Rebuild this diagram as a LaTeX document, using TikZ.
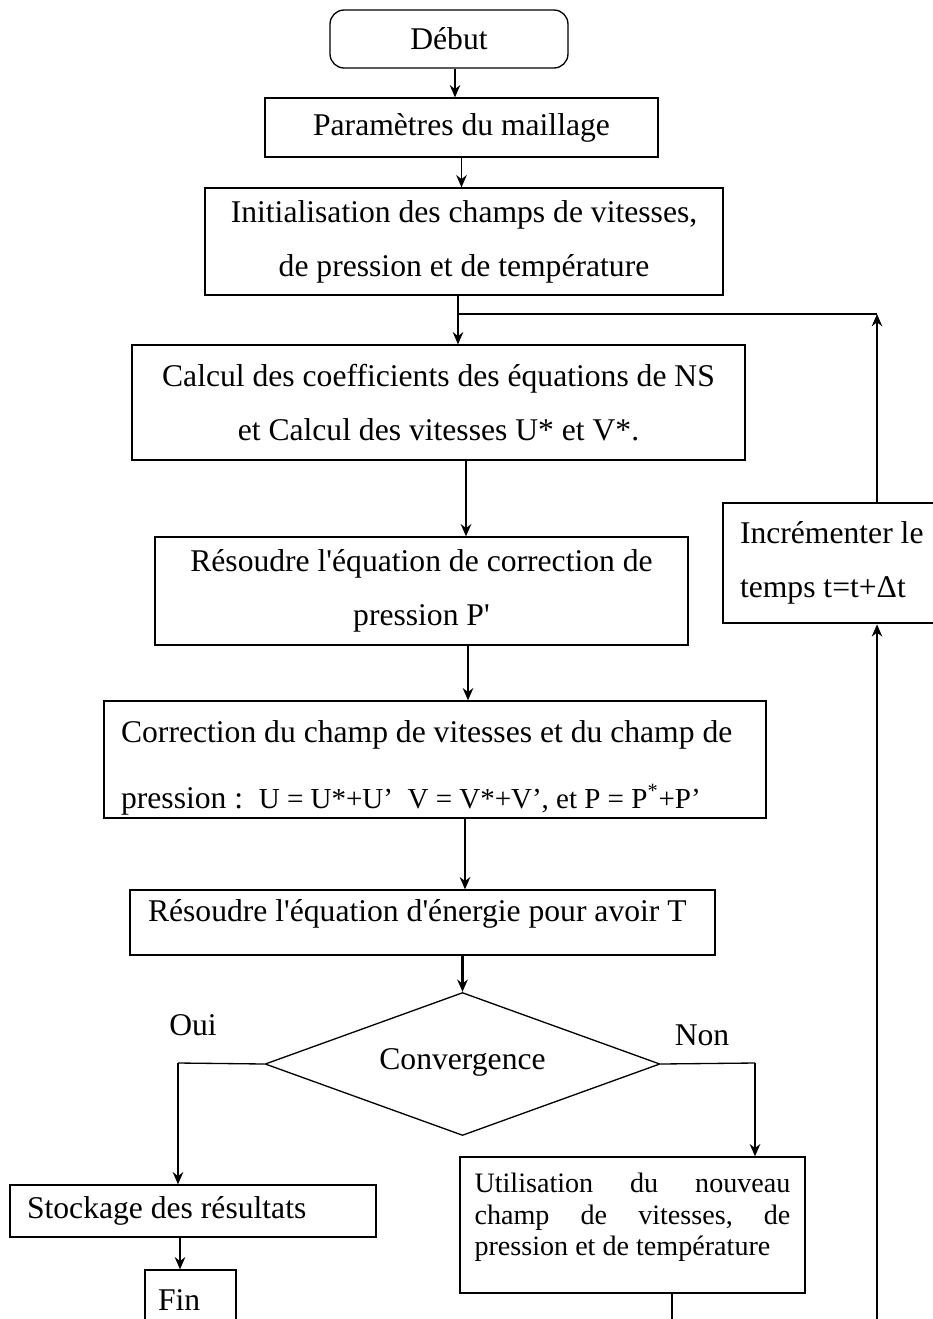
\documentclass[tikz,border=0pt]{standalone}
\usepackage{fontspec}
\setmainfont{Liberation Serif}[Ligatures=TeXOff]
\usetikzlibrary{shapes.geometric,arrows.meta}
\begin{document}
\begin{tikzpicture}[x=0.02cm,y=-0.02cm,
  box/.style={draw, line width=0.75pt, rectangle, inner sep=0pt, align=center,
    font=\fontsize{18}{30.8}\selectfont},
  lbox/.style={box, align=left},
  arr/.style={-{Stealth[length=7pt,width=6pt]}, line width=0.75pt},
  tarr/.style={-{Stealth[length=7pt,width=6pt]}, line width=1.4pt},
  conn/.style={line width=0.75pt},
  lab/.style={inner sep=0pt, font=\fontsize{18}{21}\selectfont}]
\useasboundingbox (0,0) rectangle (933,1319);
\clip (0,0) rectangle (933,1319);
\fill[white] (0,0) rectangle (933,1319);

\node[box, rounded corners=8pt, minimum width=4.76cm, minimum height=1.16cm] (debut) at (449,39) {Début};
\node[box, minimum width=7.86cm, minimum height=1.18cm] (param) at (461.5,127.5) {Paramètres du maillage};
\node[box, minimum width=10.36cm, minimum height=2.14cm] (init) at (464,241.5)
  {Initialisation des champs de vitesses,\\ de pression et de température};
\node[box, minimum width=12.26cm, minimum height=2.30cm] (calc) at (438.5,402.5)
  {Calcul des coefficients des équations de NS\\ et Calcul des vitesses U* et V*.};
\node[box, minimum width=10.66cm, minimum height=2.16cm] (resp) at (421.5,591)
  {Résoudre l'équation de correction de\\ pression P'};
\node[lbox, font=\fontsize{18}{38}\selectfont, minimum width=13.24cm, minimum height=2.34cm] (corr) at (435,759.5)
  {\makebox[12.56cm][l]{\rule{0pt}{22pt}Correction du champ de vitesses et du champ de}\\
   \makebox[12.56cm][l]{pression :\ \ {\fontsize{16.5}{18}\selectfont U = U*+U’\ \ V = V*+V’, et P = P\textsuperscript{*}+P’}}};
\node[lbox, minimum width=11.70cm, minimum height=1.30cm] (rest) at (422.5,922.5)
  {\makebox[10.98cm][l]{Résoudre l'équation d'énergie pour avoir T}\rule[-14pt]{0pt}{14pt}};
\node[draw, diamond, aspect=2.76, line width=0.75pt, inner sep=0pt, minimum width=7.90cm, minimum height=2.86cm,
  font=\fontsize{18}{21}\selectfont] (conv) at (462.5,1064) {\raisebox{6pt}{Convergence}};
\node[lbox, minimum width=7.32cm, minimum height=1.04cm] (stock) at (193,1211)
  {\makebox[6.64cm][l]{Stockage des résultats}};
\node[lbox, minimum width=1.82cm, minimum height=1.20cm] (fin) at (190.5,1300) {\makebox[1.30cm][l]{Fin}};
\node[lbox, font=\fontsize{16}{17.9}\selectfont, minimum width=6.90cm, minimum height=2.72cm] (util) at (632.5,1225)
  {\makebox[6.32cm][l]{Utilisation\hfill du\hfill nouveau}\\
   \makebox[6.32cm][l]{champ\hfill de\hfill vitesses,\hfill de}\\
   \makebox[6.32cm][l]{pression et de température}\rule[-12pt]{0pt}{12pt}};
\node[lbox, line width=1.5pt, minimum width=4.80cm, minimum height=2.40cm] (incr) at (843,563)
  {\makebox[4.12cm][l]{Incrémenter le}\\ \makebox[4.12cm][l]{temps t=t+Δt}};

\node[lab] (oui) at (193,1025) {Oui};
\node[lab] (non) at (702,1035) {Non};

\coordinate (j1) at (458,314);
\coordinate (j2) at (877,314);
\coordinate (cL) at (178,1063);
\coordinate (cR) at (755,1063);
\coordinate (uEnd) at (672,1330);
\coordinate (rEnd) at (877,1330);
\coordinate (x455) at (455,0);
\coordinate (x466) at (466,0);
\coordinate (x468) at (468,0);
\coordinate (x465) at (465,0);
\coordinate (x180) at (180,0);

\draw[arr] (debut.south -| x455) -- (x455 |- param.north);
\draw[arr] (param.south) -- (param.south |- init.north);
\draw[conn] (init.south -| j1) -- (j1);
\draw[arr] (j1) -- (j1 |- calc.north);
\draw[arr] (incr.north -| j2) -- (j2);
\draw[conn] (j2) -- (j1);
\draw[tarr] (calc.south -| x466) -- (x466 |- resp.north);
\draw[tarr] (resp.south -| x468) -- (x468 |- corr.north);
\draw[tarr] (corr.south -| x465) -- (x465 |- rest.north);
\draw[tarr] (rest.south -| conv.north) -- (conv.north);
\draw[conn] (conv.west) -- (cL);
\draw[tarr] (cL) -- (cL |- stock.north);
\draw[conn] (conv.east) -- (cR);
\draw[tarr] (cR) -- (cR |- util.north);
\draw[tarr] (stock.south -| x180) -- (x180 |- fin.north);
\draw[conn] (util.south -| uEnd) -- (uEnd);
\draw[arr] (rEnd) -- (rEnd |- incr.south);
\end{tikzpicture}
\end{document}
